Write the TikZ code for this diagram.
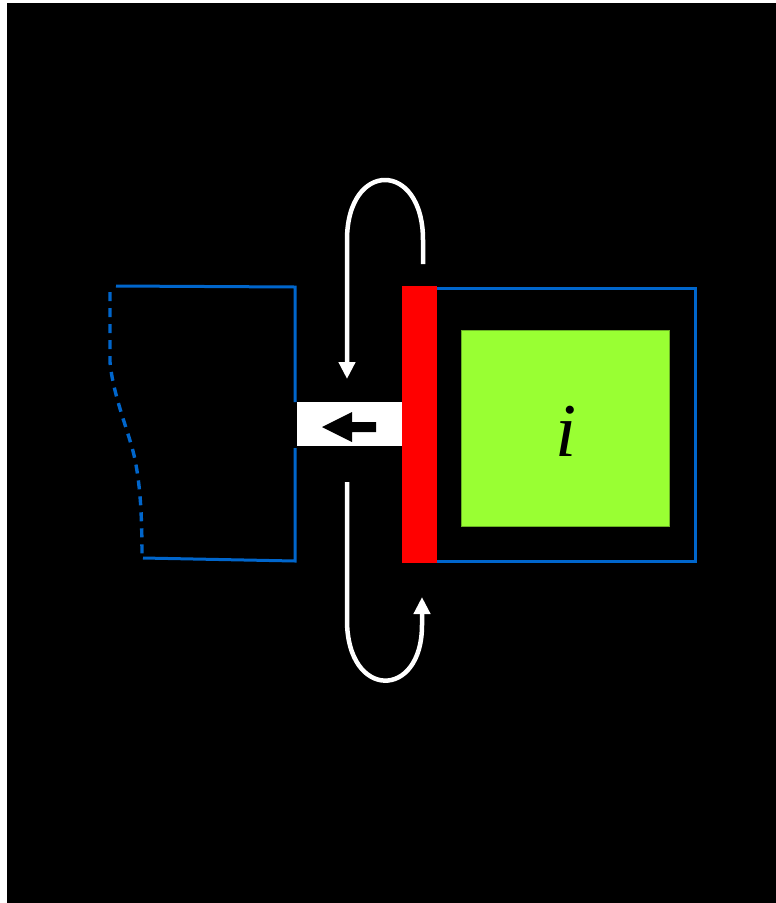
\documentclass[tikz,border=0pt]{standalone}
\usepackage{fontspec}
\setmainfont{Liberation Serif}
\usetikzlibrary{arrows.meta}
\definecolor{wallblue}{RGB}{0,102,204}
\definecolor{cellgreen}{RGB}{153,255,51}
\definecolor{pistonred}{RGB}{255,0,0}
\tikzset{
  wall/.style={draw=wallblue, line width=3pt},
  wallcut/.style={draw=wallblue, line width=3.4pt, dash pattern=on 9pt off 7pt},
  flow/.style={draw=white, line width=4.5pt, line cap=butt,
    -{Triangle[width=16pt,length=17pt]}},
}
\begin{document}
\begin{tikzpicture}[x=1pt,y=-1pt]
  \useasboundingbox (0,0) rectangle (776,903);
  % backdrop
  \fill[white] (0,0) rectangle (776,903);
  \fill[black] (7,3) rectangle (776,903);

  % left chamber: open boundary on the left
  \coordinate (lt0) at (116,286);
  \coordinate (lt1) at (295,287);
  \coordinate (lg0) at (295,402);
  \coordinate (lg1) at (295,448);
  \coordinate (lb1) at (295,561);
  \coordinate (lb0) at (143,558);
  \draw[wall] (lt0) -- (lt1) -- (lg0);
  \draw[wall] (lg1) -- (lb1) -- (lb0);
  \draw[wallcut] (110,292) -- (110,362)
    .. controls (113,395) and (128,430) .. (134,455)
    .. controls (140,482) and (142,512) .. (142,558);

  % right chamber
  \coordinate (rt0) at (437,288);
  \coordinate (rt1) at (695,288);
  \coordinate (rb1) at (695,561);
  \coordinate (rb0) at (437,561);
  \draw[wall] (rt0) -- (rt1) -- (rb1) -- (rb0);

  % separating plate
  \node[fill=pistonred, inner sep=0, minimum width=35pt, minimum height=277pt,
        anchor=north west] (plate) at (402,286) {};

  % channel with its direction marker
  \node[fill=white, inner sep=0, minimum width=105pt, minimum height=44pt,
        anchor=north west] (gap) at (297,402) {};
  \fill[black] (322,427) -- (352,412) -- (352,422) -- (376,422)
    -- (376,432) -- (352,432) -- (352,442) -- cycle;

  % inner cell
  \node[fill=cellgreen, draw=cellgreen!70!black, line width=0.8pt, inner sep=0,
        minimum width=208pt, minimum height=196pt, anchor=north west]
        (cell) at (461,330) {};
  \node[font=\fontsize{76}{76}\selectfont\itshape, anchor=base] (lbl)
        at (566,456) {i};

  % circulation loops around the plate
  \coordinate (u0) at (423,264);
  \coordinate (u1) at (347,379);
  \coordinate (d0) at (347,482);
  \coordinate (d1) at (422,597);
  \draw[flow] (u0) -- (423,240) .. controls (423,160) and (347,160) .. (347,240) -- (u1);
  \draw[flow] (d0) -- (347,620) .. controls (347,700) and (422,700) .. (422,625) -- (d1);
\end{tikzpicture}
\end{document}
